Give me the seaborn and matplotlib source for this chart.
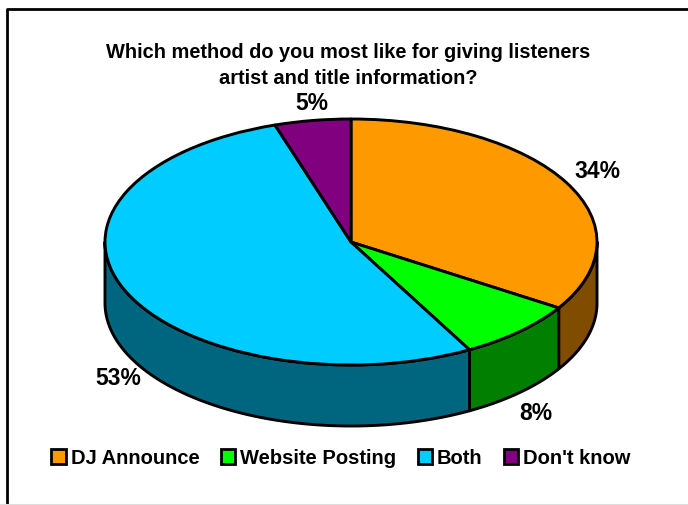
import numpy as np
import matplotlib
matplotlib.use("Agg")
import matplotlib.pyplot as plt
from matplotlib.lines import Line2D
from matplotlib.patches import Patch, Polygon
import seaborn as sns

title = "Which method do you most like for giving listeners\nartist and title information?"
categories = ["DJ Announce", "Website Posting", "Both", "Don't know"]
values = [34, 8, 53, 5]
top_colors = ["#FF9900", "#00FF00", "#00CCFF", "#800080"]
side_colors = ["#7F4C00", "#007F00", "#006680", "#400040"]
label_px = [(597, 171), (536, 414), (118, 379), (312, 103.5)]

W, H = 688, 506
CX, CY, RX, RY, DEPTH = 351, 243, 246, 123, 61

sns.set_theme(style="white")
plt.rcParams["font.family"] = ["Liberation Sans", "DejaVu Sans"]
plt.rcParams["font.weight"] = "bold"
plt.rcParams["text.color"] = "black"

fig = plt.figure(figsize=(W / 100, H / 100), dpi=100, facecolor="white")
ax = fig.add_axes([0, 0, 1, 1])

wedges, _ = ax.pie(values, colors=sns.color_palette(top_colors), startangle=90,
                   counterclock=False, radius=1,
                   wedgeprops=dict(edgecolor="black", linewidth=2.1, joinstyle="round", zorder=3))
ax.set_aspect("auto")
ax.set_xlim(-CX / RX, (W - CX) / RX)
ax.set_ylim(-(H - CY) / RY, CY / RY)
ax.axis("off")

# side wall of the front half, from the slice shares
d = DEPTH / RY
edges = np.concatenate([[0], np.cumsum(values)]) / np.sum(values) * 360
for i, col in enumerate(side_colors):
    a0, a1 = max(edges[i], 90), min(edges[i + 1], 270)
    if a1 <= a0:
        continue
    t = np.radians(np.linspace(a0, a1, 120))
    x, y = np.sin(t), np.cos(t)
    pts = np.vstack([np.column_stack([x, y]), np.column_stack([x[::-1], y[::-1] - d])])
    ax.add_patch(Polygon(pts, closed=True, facecolor=col, edgecolor="black",
                         linewidth=2.1, joinstyle="round", zorder=1))

for v, (px, py) in zip(values, label_px):
    ax.text(px / W, 1 - py / H, f"{v}%", transform=fig.transFigure, ha="center", va="center",
            fontsize=16.5, fontweight="bold", color="black")

fig.text(348.5 / W, 1 - 65.7 / H, title, ha="center", va="center", fontsize=14.4,
         fontweight="bold", color="black", linespacing=1.5)

handles = [Patch(facecolor=c, edgecolor="black", linewidth=2) for c in top_colors]
leg = ax.legend(handles, categories, ncol=4, loc="center", bbox_to_anchor=(341 / W, 1 - 459 / H),
                bbox_transform=fig.transFigure, frameon=False,
                handlelength=0.72, handleheight=0.72, handletextpad=0.25, columnspacing=1.05,
                prop=dict(family="Liberation Sans", weight="bold", size=14.5))
for txt in leg.get_texts():
    txt.set_color("black")

# outer chart frame
fig.add_artist(Line2D([7 / W, 7 / W, 1], [0, 1 - 10 / H, 1 - 10 / H], color="black", lw=2))
fig.add_artist(Line2D([0, 1], [0.5 / H, 0.5 / H], color="#DDDDDD", lw=1.5))

fig.savefig("out.png", dpi=100, facecolor="white")
